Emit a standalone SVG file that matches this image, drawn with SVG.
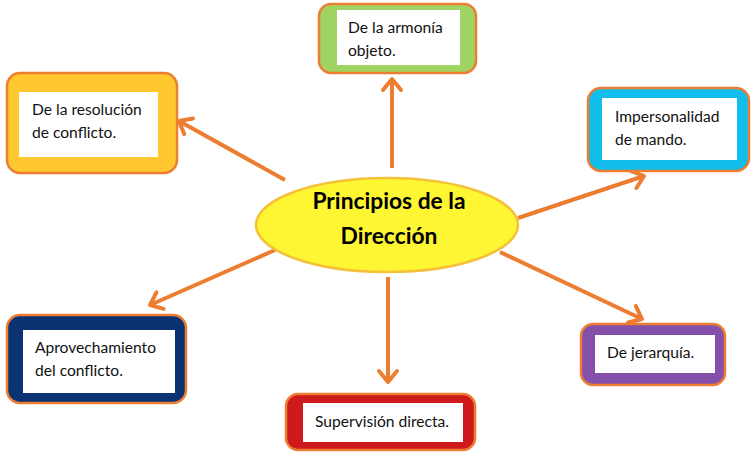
<svg xmlns="http://www.w3.org/2000/svg" width="752" height="452" viewBox="0 0 752 452">
<style>
.outer{stroke:#ED7D31;stroke-width:2.5}
.inner{fill:#FFFFFF}
.t{font-family:Lato,"Open Sans","Liberation Sans",sans-serif;font-size:15.6px;fill:#111111}
.title{font-family:Lato,"Open Sans","Liberation Sans",sans-serif;font-size:22.8px;font-weight:bold;fill:#000000;text-anchor:middle}
.con{stroke:#ED7D31;stroke-width:4;fill:none;marker-end:url(#ah)}
</style>
<defs>
<marker id="ah" markerUnits="userSpaceOnUse" viewBox="-16 -12 20 24" refX="0" refY="0" markerWidth="20" markerHeight="24" orient="auto" overflow="visible">
<path d="M-11,-9 L0,0 L-11,9" fill="none" stroke="#ED7D31" stroke-width="4" stroke-linecap="round" stroke-linejoin="round"/>
</marker>
</defs>
<rect width="752" height="452" fill="#FFFFFF"/>
<g id="connectors">
<line class="con" x1="392" y1="168" x2="392" y2="79"/>
<line class="con" x1="285" y1="180" x2="179" y2="121"/>
<line class="con" x1="518" y1="218" x2="644" y2="176"/>
<line class="con" x1="275" y1="250" x2="150" y2="305"/>
<line class="con" x1="388" y1="277" x2="388" y2="382"/>
<line class="con" x1="500" y1="252" x2="642" y2="319"/>
</g>
<g id="center">
<ellipse cx="387" cy="225" rx="131" ry="47" fill="#FFF633" stroke="#F5C03A" stroke-width="2.5"/>
<text class="title" x="389" y="209">Principios de la</text>
<text class="title" x="389" y="244">Dirección</text>
</g>
<g id="resolucion">
<rect class="outer" x="7" y="73" width="170" height="100" rx="13" fill="#FFC82F"/>
<rect class="inner" x="19" y="92" width="139" height="65"/>
<text class="t" x="32" y="115">De la resolución</text>
<text class="t" x="32" y="138">de conflicto.</text>
</g>
<g id="armonia">
<rect class="outer" x="319" y="4" width="157" height="69" rx="12" fill="#A0D462"/>
<rect class="inner" x="337" y="10" width="123" height="55"/>
<text class="t" x="348" y="33">De la armonía</text>
<text class="t" x="348" y="56">objeto.</text>
</g>
<g id="impersonalidad">
<rect class="outer" x="588" y="88" width="161" height="83" rx="13" fill="#11BEEB"/>
<rect class="inner" x="602" y="98" width="135" height="62"/>
<text class="t" x="615" y="122">Impersonalidad</text>
<text class="t" x="615" y="145">de mando.</text>
</g>
<g id="aprovechamiento">
<rect class="outer" x="7" y="315" width="179" height="88" rx="13" fill="#0B3272"/>
<rect class="inner" x="23" y="330" width="152" height="63"/>
<text class="t" x="35" y="353">Aprovechamiento</text>
<text class="t" x="35" y="376">del conflicto.</text>
</g>
<g id="supervision">
<rect class="outer" x="286" y="394" width="189" height="56" rx="12" fill="#CE1A1C"/>
<rect class="inner" x="303" y="403" width="160" height="39"/>
<text class="t" x="315" y="427">Supervisión directa.</text>
</g>
<g id="jerarquia">
<rect class="outer" x="581" y="324" width="144" height="61" rx="12" fill="#8550AA"/>
<rect class="inner" x="595" y="335" width="120" height="38"/>
<text class="t" x="607" y="358">De jerarquía.</text>
</g>
</svg>
